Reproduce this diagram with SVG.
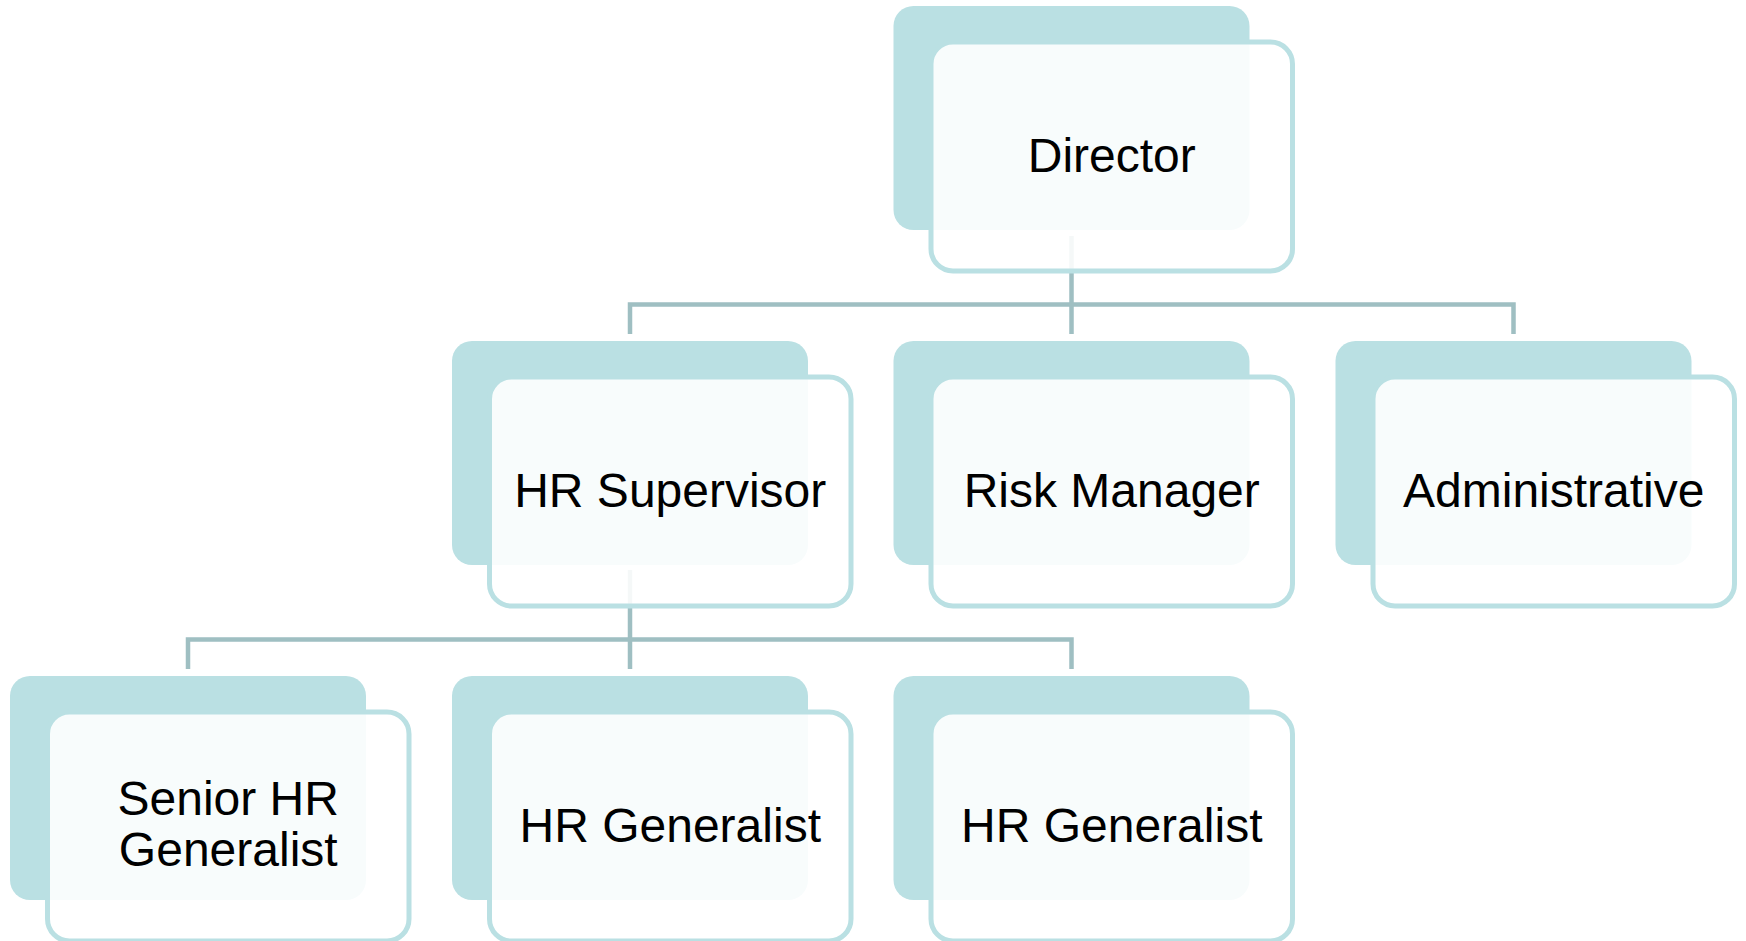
<svg xmlns="http://www.w3.org/2000/svg" width="1746" height="941" viewBox="0 0 1746 941">
<style>
.back{fill:#BAE0E3;}
.front{fill:#FFFFFF;fill-opacity:0.89;stroke:#BAE0E3;stroke-width:5;}
.lbl{font-size:48px;fill:#000000;text-anchor:middle;}
.conn{fill:none;stroke:#9FBFC2;stroke-width:4.5;}
</style>
<rect width="1746" height="941" fill="#FFFFFF"/>
<g id="connectors">
<path class="conn" d="M1071.5,236 V304.5 M630,334 V304.5 H1513.5 V334 M1071.5,304.5 V334"/>
<path class="conn" d="M630,570 V639.5 M188,669 V639.5 H1071.5 V669 M630,639.5 V669"/>
</g>
<g font-family="'Liberation Sans', Arial, sans-serif">
<g id="node-director">
<rect class="back" x="893.5" y="6" width="356" height="224" rx="20"/>
<rect class="front" x="931" y="42" width="361.5" height="229" rx="22"/>
<text class="lbl" x="1111.75" y="171.5">Director</text>
</g>
<g id="node-hr-supervisor">
<rect class="back" x="452" y="341" width="356" height="224" rx="20"/>
<rect class="front" x="489.5" y="377" width="361.5" height="229" rx="22"/>
<text class="lbl" x="670.25" y="506.5">HR Supervisor</text>
</g>
<g id="node-risk-manager">
<rect class="back" x="893.5" y="341" width="356" height="224" rx="20"/>
<rect class="front" x="931" y="377" width="361.5" height="229" rx="22"/>
<text class="lbl" x="1111.75" y="506.5">Risk Manager</text>
</g>
<g id="node-administrative">
<rect class="back" x="1335.5" y="341" width="356" height="224" rx="20"/>
<rect class="front" x="1373" y="377" width="361.5" height="229" rx="22"/>
<text class="lbl" x="1553.75" y="506.5">Administrative</text>
</g>
<g id="node-senior-hr-generalist">
<rect class="back" x="10" y="676" width="356" height="224" rx="20"/>
<rect class="front" x="47.5" y="712" width="361.5" height="229" rx="22"/>
<text class="lbl" x="228.25" y="815">Senior HR</text>
<text class="lbl" x="228.25" y="866">Generalist</text>
</g>
<g id="node-hr-generalist-1">
<rect class="back" x="452" y="676" width="356" height="224" rx="20"/>
<rect class="front" x="489.5" y="712" width="361.5" height="229" rx="22"/>
<text class="lbl" x="670.25" y="841.5">HR Generalist</text>
</g>
<g id="node-hr-generalist-2">
<rect class="back" x="893.5" y="676" width="356" height="224" rx="20"/>
<rect class="front" x="931" y="712" width="361.5" height="229" rx="22"/>
<text class="lbl" x="1111.75" y="841.5">HR Generalist</text>
</g>
</g>
</svg>
